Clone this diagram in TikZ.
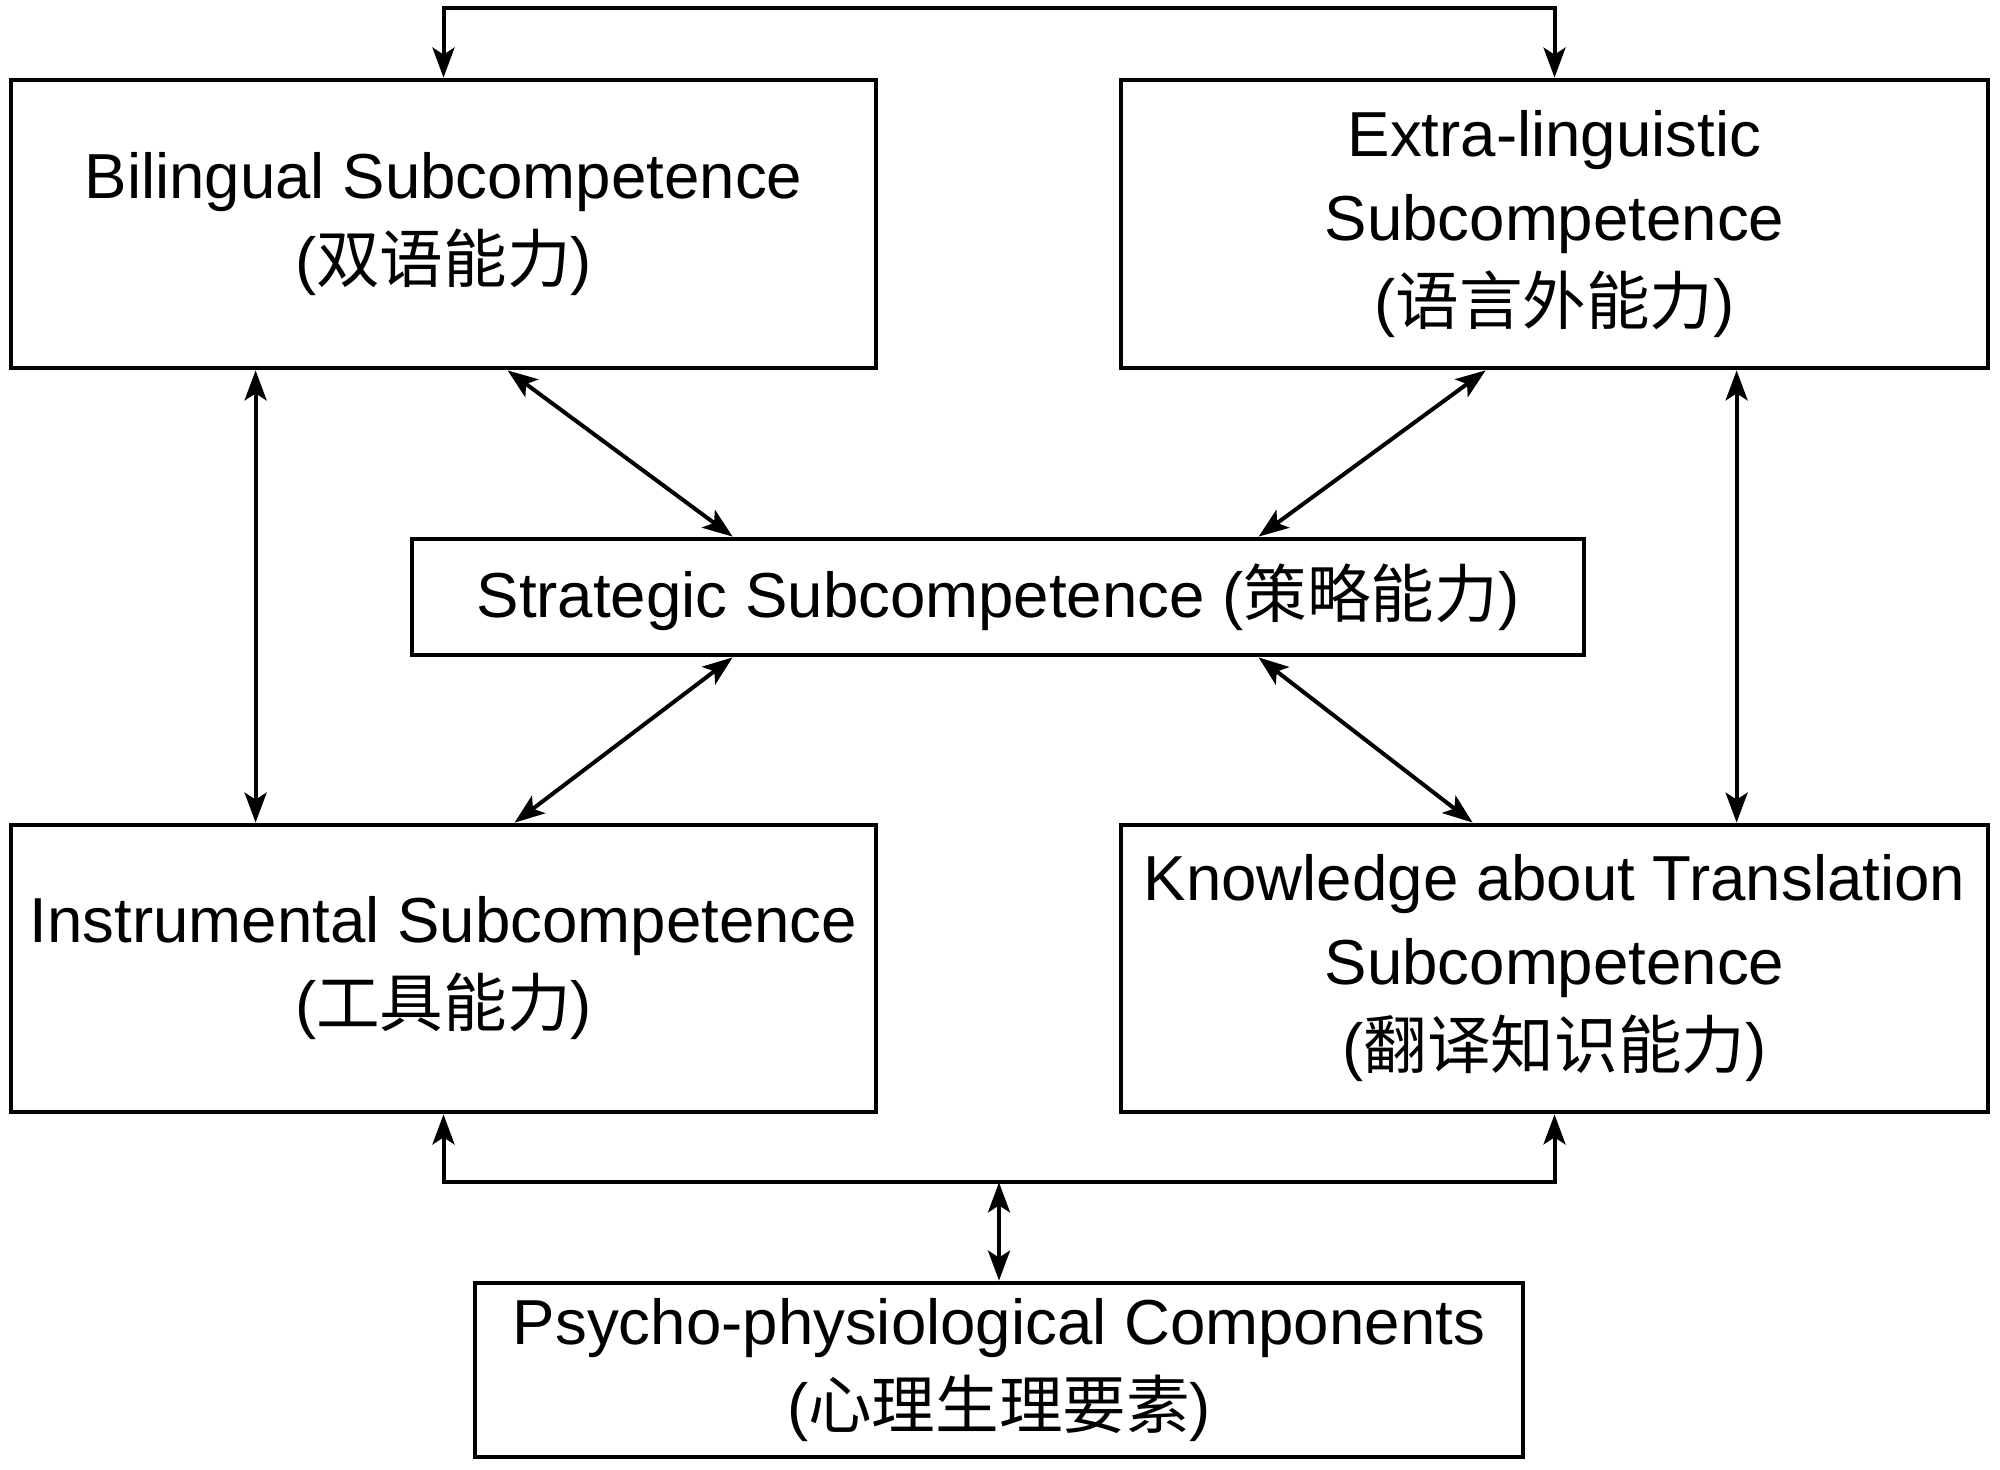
\documentclass[tikz,border=0pt]{standalone}
\usepackage{fontspec}
\setmainfont{Liberation Sans}
\newfontfamily\cjk{Noto Sans CJK SC}
\usetikzlibrary{arrows.meta,calc}
\begin{document}
\begin{tikzpicture}[x=0.5pt,y=-0.5pt,
  box/.style={draw,line width=2.4pt,rectangle,inner sep=0pt,align=center,
    font=\fontsize{31.8}{42}\selectfont},
  tip/.tip={Stealth[length=15pt,width=11pt,inset=3.5pt]},
  link/.style={line width=2pt,{tip}-{tip}}]
\useasboundingbox[fill=white] (0,0) rectangle (2000,1470);
\node[box,minimum width=432.5pt,minimum height=144pt] (bil) at (443.5,224)
  {Bilingual Subcompetence\\({\cjk 双语能力})};
\node[box,minimum width=433.5pt,minimum height=144pt] (ext) at (1554.5,224)
  {Extra-linguistic\\Subcompetence\\({\cjk 语言外能力})};
\node[box,minimum width=586pt,minimum height=58pt] (str) at (998,597)
  {Strategic Subcompetence ({\cjk 策略能力})};
\node[box,minimum width=432.5pt,minimum height=143.5pt] (ins) at (443.5,968.5)
  {Instrumental Subcompetence\\({\cjk 工具能力})};
\node[box,minimum width=433.5pt,minimum height=143.5pt] (kno) at (1554.5,968.5)
  {Knowledge about Translation\\Subcompetence\\({\cjk 翻译知识能力})};
\node[box,minimum width=524pt,minimum height=87pt] (psy) at (999,1370)
  {Psycho-physiological Components\\({\cjk 心理生理要素})};
% top connector
\draw[link] (bil.north) -- ++(0,-70) coordinate (topl) -| (ext.north);
% verticals
\draw[link] ($(bil.south west)+(247,0)$) -- ($(ins.north west)+(247,0)$);
\draw[link] ($(ext.south west)+(618,0)$) -- ($(kno.north west)+(618,0)$);
% diagonals
\draw[link] ($(bil.south west)+(499,0)$) -- ($(str.north west)+(323,0)$);
\draw[link] ($(ext.south west)+(367,0)$) -- ($(str.north west)+(849,0)$);
\draw[link] ($(str.south west)+(323,0)$) -- ($(ins.north west)+(506,0)$);
\draw[link] ($(str.south west)+(849,0)$) -- ($(kno.north west)+(354,0)$);
% bottom bus
\draw[link] (ins.south) -- ++(0,68) coordinate (bus) -| (kno.south);
\draw[link] (psy.north) -- (psy.north |- bus);
\end{tikzpicture}
\end{document}
